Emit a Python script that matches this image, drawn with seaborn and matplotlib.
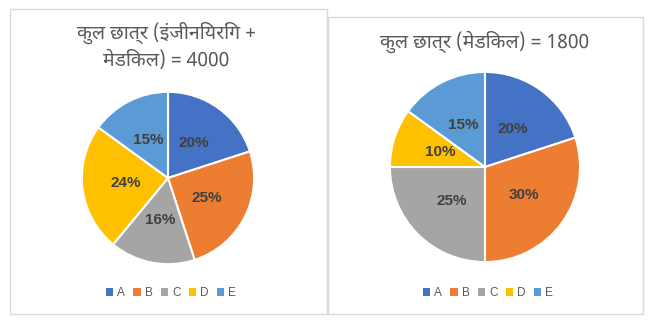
import glob, os
import matplotlib
matplotlib.use("Agg")
import matplotlib.pyplot as plt
from matplotlib import font_manager as fm
from matplotlib.patches import Rectangle
import seaborn as sns

# ---------------- data ----------------
categories = ["A", "B", "C", "D", "E"]
left_values = [20, 25, 16, 24, 15]
right_values = [20, 30, 25, 10, 15]
left_title = "कुल छात्र (इंजीनियरिंग +\nमेडिकल) = 4000"
right_title = "कुल छात्र (मेडिकल) = 1800"
colors = ["#4472C4", "#ED7D31", "#A5A5A5", "#FFC000", "#5B9BD5"]

sns.set_theme(style="white")

# find a Devanagari font
deva_family = None
prefs = ["NotoSansDevanagari-Regular", "NotoSansDevanagariUI-Regular",
         "NotoSansDevanagari", "Mukta-Regular", "Hind-Regular", "NotoSansDevanagariUI"]
allf = fm.findSystemFonts()
for p in prefs:
    cands = [f for f in allf if os.path.basename(f).startswith(p)]
    if cands:
        cands.sort(key=lambda s: ("Bold" in s, len(s)))
        fm.fontManager.addfont(cands[0])
        deva_family = fm.FontProperties(fname=cands[0]).get_name()
        break
title_fam = [deva_family, "DejaVu Sans"] if deva_family else ["DejaVu Sans"]

W, H = 654, 325
fig = plt.figure(figsize=(W / 100, H / 100), dpi=100)


def px_rect(x0, y0, x1, y1):
    return Rectangle((x0 / W, 1 - y1 / H), (x1 - x0) / W, (y1 - y0) / H,
                     transform=fig.transFigure, fill=False,
                     edgecolor="#D9D9D9", linewidth=1.0)


fig.patches.append(px_rect(10, 9, 327, 314))
fig.patches.append(px_rect(328, 17, 643, 314))


def draw_pie(values, cx, cy, r, title_lines, legend_cx, legend_y):
    ax = fig.add_axes([(cx - r) / W, 1 - (cy + r) / H, 2 * r / W, 2 * r / H])
    wedges, texts, autotexts = ax.pie(
        values, colors=colors, startangle=90, counterclock=False,
        autopct=lambda p: f"{p:.0f}%", pctdistance=0.5,
        wedgeprops=dict(edgecolor="white", linewidth=1.5),
        textprops=dict(color="#404040", fontsize=11, fontweight="bold",
                       family="Liberation Sans"))
    ax.set_xlim(-1.01, 1.01)
    ax.set_ylim(-1.01, 1.01)
    ax.set_aspect("equal")
    ax.axis("off")
    for (tx, ty, s) in title_lines:
        fig.text(tx / W, 1 - ty / H, s, ha="center", va="center",
                 fontsize=14, color="#595959", family=title_fam)
    fig.legend(wedges, categories, loc="center", ncol=5,
               bbox_to_anchor=(legend_cx / W, 1 - legend_y / H),
               frameon=False, handlelength=0.6, handleheight=0.6,
               handletextpad=0.35, columnspacing=0.7, labelcolor="#595959",
               prop=dict(family="Liberation Sans", size=8.5))
    for h in fig.legends[-1].legend_handles:
        h.set_edgecolor("none")


lt = left_title.split("\n")
draw_pie(left_values, 168, 178, 87, [(166, 33, lt[0]), (166, 60, lt[1])], 171, 293)
draw_pie(right_values, 485, 167, 96, [(485, 42, right_title)], 488, 293)

fig.savefig("out.png", dpi=100)
